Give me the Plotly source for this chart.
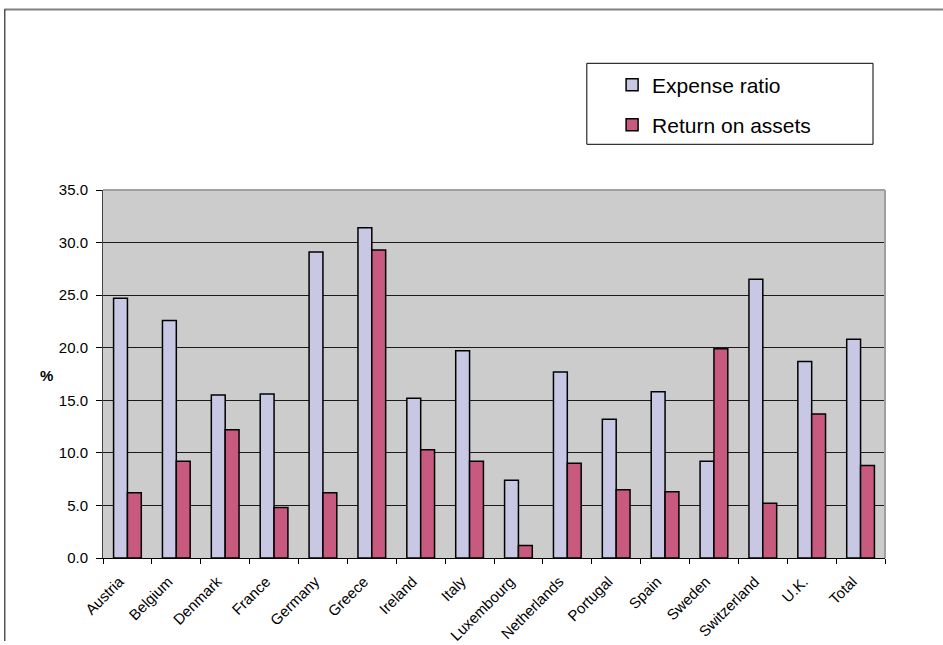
import plotly.graph_objects as go

countries = ["Austria", "Belgium", "Denmark", "France", "Germany", "Greece", "Ireland",
             "Italy", "Luxembourg", "Netherlands", "Portugal", "Spain", "Sweden",
             "Switzerland", "U.K.", "Total"]
expense_ratio = [24.7, 22.6, 15.5, 15.6, 29.1, 31.4, 15.2, 19.7, 7.4, 17.7, 13.2, 15.8,
                 9.2, 26.5, 18.7, 20.8]
return_on_assets = [6.2, 9.2, 12.2, 4.8, 6.2, 29.3, 10.3, 9.2, 1.2, 9.0, 6.5, 6.3,
                    19.9, 5.2, 13.7, 8.8]
y_ticks = [0, 5, 10, 15, 20, 25, 30, 35]

W, H = 943, 645
L, R, T, B = 102.7, 885, 190, 558
pw, ph = R - L, B - T

def px(x):
    return (x - L) / pw

def py(y):
    return (B - y) / ph

fig = go.Figure()
fig.add_trace(go.Bar(
    x=countries, y=expense_ratio, name="Expense ratio",
    marker=dict(color="#C8C8E4", line=dict(color="#000000", width=1.5)),
    legend="legend",
))
fig.add_trace(go.Bar(
    x=countries, y=return_on_assets, name="Return on assets",
    marker=dict(color="#C85A80", line=dict(color="#000000", width=1.5)),
    legend="legend2",
))

font_family = "Liberation Sans, Arial, sans-serif"

fig.update_layout(
    width=W, height=H,
    margin=dict(l=L, r=W - R, t=T, b=H - B, pad=0, autoexpand=False),
    paper_bgcolor="#FFFFFF",
    plot_bgcolor="#CCCCCC",
    barmode="group",
    bargap=0.433,
    bargroupgap=0,
    font=dict(family=font_family, color="#000000", size=15),
    showlegend=True,
    legend=dict(
        x=px(612), y=py(85), xanchor="left", yanchor="middle",
        bgcolor="rgba(0,0,0,0)", borderwidth=0,
        font=dict(size=21, family=font_family, color="#000000"),
    ),
    legend2=dict(
        x=px(612), y=py(125), xanchor="left", yanchor="middle",
        bgcolor="rgba(0,0,0,0)", borderwidth=0,
        font=dict(size=21, family=font_family, color="#000000"),
    ),
    xaxis=dict(
        type="category",
        automargin=False,
        tickangle=-45,
        ticks="outside", ticklen=5, tickcolor="#000000", tickwidth=1,
        tickson="boundaries",
        ticklabelstandoff=8,
        ticklabelshift=-8,
        showline=True, linecolor="#000000", linewidth=1,
        showgrid=False,
        tickfont=dict(size=15, family=font_family),
    ),
    yaxis=dict(
        automargin=False,
        range=[0, 35],
        tickvals=y_ticks,
        tickformat=".1f",
        ticks="outside", ticklen=6, tickcolor="#000000", tickwidth=1,
        ticklabelstandoff=5,
        showline=True, linecolor="#444444", linewidth=1,
        showgrid=True, gridcolor="#1A1A1A", gridwidth=1,
        zeroline=False,
        tickfont=dict(size=15, family=font_family),
    ),
    shapes=[
        dict(type="line", xref="paper", yref="paper", x0=0, x1=1, y0=1, y1=1,
             line=dict(color="#A0A0A0", width=2), layer="above"),
        dict(type="line", xref="paper", yref="paper", x0=1, x1=1, y0=0, y1=1,
             line=dict(color="#A0A0A0", width=2), layer="above"),
        dict(type="rect", xref="paper", yref="paper",
             x0=px(586.7), x1=px(873), y0=py(144.3), y1=py(63.3),
             line=dict(color="#000000", width=1), fillcolor="#FFFFFF", layer="below"),
        dict(type="line", xref="paper", yref="paper",
             x0=px(4), x1=px(943), y0=py(9.5), y1=py(9.5),
             line=dict(color="#808080", width=2)),
        dict(type="line", xref="paper", yref="paper",
             x0=px(4.5), x1=px(4.5), y0=py(9.5), y1=py(641),
             line=dict(color="#000000", width=1)),
    ],
    annotations=[
        dict(text="<b>%</b>", xref="paper", yref="paper", x=px(46), y=py(375),
             xanchor="center", yanchor="middle", showarrow=False,
             font=dict(size=15, family=font_family)),
    ],
)

fig.write_html("out.html")
